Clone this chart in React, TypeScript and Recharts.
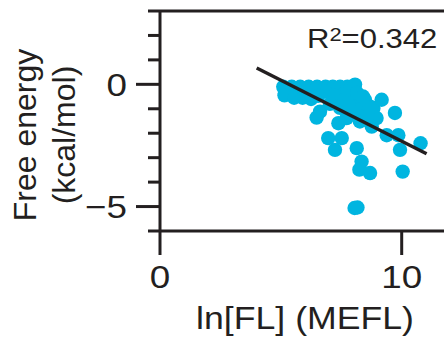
import React from "react";
import { ScatterChart, Scatter, XAxis, YAxis, ReferenceLine } from "recharts";

const xValues = [
  5.1, 5.45, 5.8, 6.15, 6.5, 6.85, 7.15, 7.45, 7.75, 8.05,
  5.15, 5.15, 5.55, 5.9, 6.25,
  6.62, 6.48, 7.38, 7.72, 7.99, 8.48, 8.83, 8.48, 9.17, 9.72, 8.96,
  9.38, 9.86, 7.86, 8.07, 7.57, 8.28, 8.69,
  6.83, 7.24, 7.03, 7.45, 7.65, 6.54,
  8.27, 8.76, 6.96, 7.52, 7.24, 8.14, 8.34, 8.25, 8.69,
  9.93, 10.04, 10.78, 8.05, 8.17,
  7.95, 8.15, 8.6, 7.8, 8.4,
];
const yValues = [
  -0.1, -0.1, -0.1, -0.1, -0.1, -0.1, -0.1, -0.1, -0.1, -0.05,
  -0.2, -0.45, -0.55, -0.55, -0.6,
  -1.12, -1.36, -1.59, -1.38, -1.1, -1.1, -0.97, -0.63, -0.63, -1.17, -1.38,
  -2.08, -2.08, -0.15, -0.01, -0.42, -0.75, -0.91,
  -0.3, -0.47, -0.8, -0.96, -0.63, -0.47,
  -1.52, -1.73, -2.2, -2.2, -2.68, -2.61, -3.16, -3.49, -3.63,
  -2.68, -3.57, -2.41, -5.06, -5.04,
  -0.55, -0.35, -1.3, -0.8, -0.5,
];
const fitX = [4.0, 11.03];
const fitY = [0.67, -2.84];
const yTicks = [-6, -5, -4, -3, -2, -1, 0, 1, 2, 3];
const yLabeled = [0, -5];
const xTicks = [0, 10];
const rSquared = "0.342";

const points = xValues.map((x, i) => ({ x, y: yValues[i] }));
const fitLine = fitX.map((x, i) => ({ x, y: fitY[i] }));

const INK = "#231f20";
const CYAN = "#00B5E0";
const FONT = "'Liberation Sans', Arial, Helvetica, sans-serif";
const SX = 1.15;

const HText = ({ x, y, anchor, size, children }: any) => (
  <text
    transform={`translate(${x},${y}) scale(${SX},1)`}
    textAnchor={anchor}
    fontSize={size}
    fontFamily={FONT}
    fill={INK}
  >
    {children}
  </text>
);

const YTick = (props: any) => {
  const { x, y, payload } = props;
  const major = yLabeled.includes(payload.value);
  const len = major ? 24 : 12;
  return (
    <g>
      <line x1={x - len} x2={x} y1={y} y2={y} stroke={INK} strokeWidth={3} />
      {major && (
        <HText x={x - 33} y={y + 11.5} anchor="end" size={32}>
          {payload.value < 0 ? "\u2212" + Math.abs(payload.value) : String(payload.value)}
        </HText>
      )}
    </g>
  );
};

const XTick = (props: any) => {
  const { x, y, payload } = props;
  return (
    <g>
      <line x1={x} x2={x} y1={y} y2={y + 24} stroke={INK} strokeWidth={3} />
      <HText x={x} y={y + 57} anchor="middle" size={32}>
        {String(payload.value)}
      </HText>
    </g>
  );
};

const Dot = (props: any) => <circle cx={props.cx} cy={props.cy} r={7.2} fill={CYAN} />;
const NoDot = () => null;

const XLabel = (props: any) => {
  const vb = props.viewBox || {};
  const cx = vb.x + vb.width / 2;
  return (
    <g>
      <HText x={cx + 3} y={vb.y + 98} anchor="middle" size={31}>
        ln[FL] (MEFL)
      </HText>
    </g>
  );
};

const YLabel = (props: any) => {
  const vb = props.viewBox || {};
  const cy = vb.y + vb.height / 2 + 14;
  return (
    <g>
      <text
        transform={`translate(36,${cy}) rotate(-90)`}
        textAnchor="middle"
        fontSize={32}
        fontFamily={FONT}
        fill={INK}
      >
        Free energy
      </text>
      <text
        transform={`translate(75,${cy}) rotate(-90)`}
        textAnchor="middle"
        fontSize={32}
        fontFamily={FONT}
        fill={INK}
      >
        (kcal/mol)
      </text>
    </g>
  );
};

const RLabel = (props: any) => {
  const vb = props.viewBox || {};
  const right = vb.x + vb.width;
  return (
    <text
      transform={`translate(${right - 137},${vb.y + 37}) scale(${SX},1)`}
      fontSize={27}
      fontFamily={FONT}
      fill={INK}
    >
      R
      <tspan fontSize={19} dy={-7}>2</tspan>
      <tspan dy={7}>={rSquared}</tspan>
    </text>
  );
};

export default function App() {
  return (
    <div style={{ position: "absolute", left: 0, top: 0, width: 444, height: 343, background: "#fff" }}>
      <ScatterChart width={444} height={343} margin={{ top: 11, right: 0, bottom: 0, left: 0 }}>
        <XAxis
          type="number"
          dataKey="x"
          domain={[0, 11.75]}
          ticks={xTicks}
          interval={0}
          allowDataOverflow
          height={112}
          axisLine={{ stroke: INK, strokeWidth: 3 }}
          tickLine={false}
          tickSize={0}
          tickMargin={0}
          tick={<XTick />}
          label={<XLabel />}
        />
        <YAxis
          type="number"
          dataKey="y"
          domain={[-6, 3]}
          ticks={yTicks}
          interval={0}
          allowDataOverflow
          width={160}
          axisLine={{ stroke: INK, strokeWidth: 3 }}
          tickLine={false}
          tickSize={0}
          tickMargin={0}
          tick={<YTick />}
          label={<YLabel />}
        />
        <ReferenceLine y={3} stroke={INK} strokeWidth={3} label={<RLabel />} />
        <Scatter data={points} shape={<Dot />} isAnimationActive={false} />
        <Scatter
          data={fitLine}
          shape={<NoDot />}
          line={{ stroke: INK, strokeWidth: 3.5 }}
          strokeWidth={3.5}
          stroke={INK}
          isAnimationActive={false}
        />
      </ScatterChart>
    </div>
  );
}
